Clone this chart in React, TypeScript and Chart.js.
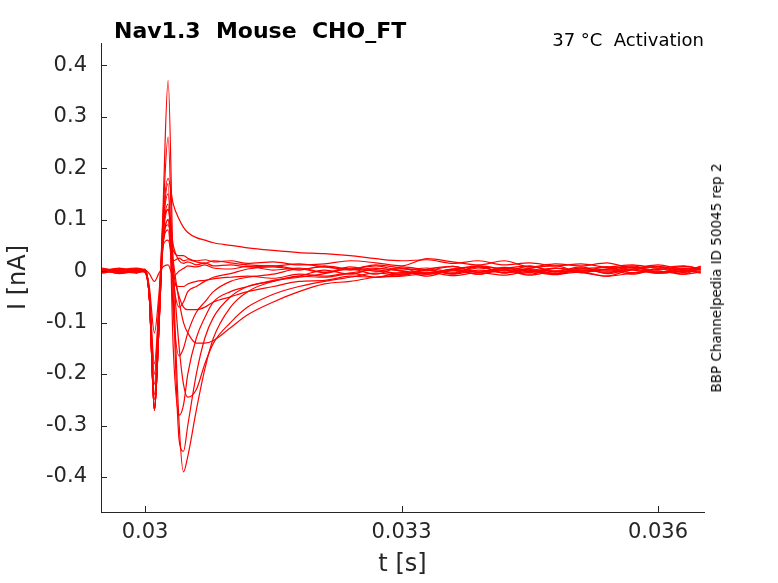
import React, { useEffect, useRef } from "react";
import { Chart, registerables } from "chart.js";
Chart.register(...registerables);

const times = [0.0295, 0.0297, 0.0299, 0.03, 0.03005, 0.03011, 0.03016, 0.03021, 0.03027, 0.03033, 0.0304, 0.03045, 0.0305, 0.0306, 0.0307, 0.0308, 0.031, 0.0312, 0.0315, 0.0318, 0.0321, 0.0324, 0.0327, 0.033, 0.0333, 0.0336, 0.0339, 0.0342, 0.0345, 0.0348, 0.0351, 0.0354, 0.0357, 0.036, 0.0363, 0.0365];

const trace1 = [0.004, -0.003, 0.002, 0.0, -0.05, -0.27, -0.12, 0.12, 0.37, 0.0, -0.3, -0.39, -0.36, -0.27, -0.19, -0.13, -0.07, -0.04, -0.02, -0.012, -0.005, 0.004, -0.006, 0.008, 0.002, -0.004, 0.01, 0.003, -0.006, 0.005, 0.0, 0.008, -0.004, 0.003, 0.006, 0.002];
const trace2 = [-0.002, 0.005, 0.0, -0.002, -0.05, -0.27, -0.12, 0.1, 0.26, -0.05, -0.33, -0.35, -0.3, -0.2, -0.13, -0.09, -0.05, -0.03, -0.02, -0.01, -0.012, -0.004, 0.003, -0.008, 0.004, 0.009, -0.002, 0.006, 0.0, -0.007, 0.004, 0.002, 0.007, -0.003, 0.0, 0.008];
const trace3 = [0.006, 0.0, -0.004, 0.002, -0.05, -0.27, -0.12, 0.08, 0.17, -0.15, -0.28, -0.26, -0.2, -0.13, -0.09, -0.06, -0.04, -0.03, -0.018, -0.01, 0.002, -0.006, 0.005, 0.0, -0.01, 0.004, 0.008, -0.003, 0.006, 0.01, -0.002, 0.003, -0.006, 0.004, 0.002, -0.004];
const trace4 = [0.0, 0.004, 0.003, -0.003, -0.05, -0.27, -0.12, 0.08, 0.15, 0.0, -0.15, -0.22, -0.245, -0.23, -0.18, -0.14, -0.1, -0.07, -0.045, -0.03, -0.02, -0.012, -0.004, -0.008, 0.002, -0.005, 0.006, 0.0, 0.009, -0.002, 0.004, 0.007, -0.003, 0.005, -0.006, 0.01];
const trace5 = [-0.004, 0.002, 0.006, 0.001, -0.05, -0.27, -0.12, 0.07, 0.13, -0.08, -0.165, -0.15, -0.12, -0.08, -0.06, -0.04, -0.02, -0.012, -0.006, 0.004, -0.003, 0.008, 0.0, 0.005, -0.006, 0.002, 0.01, -0.004, 0.003, 0.0, 0.008, -0.005, 0.004, 0.009, 0.001, 0.0];
const trace6 = [0.003, -0.005, 0.0, 0.004, -0.05, -0.27, -0.12, 0.06, 0.12, 0.02, -0.06, -0.1, -0.12, -0.14, -0.14, -0.135, -0.11, -0.085, -0.06, -0.04, -0.025, -0.02, -0.012, -0.01, -0.004, 0.002, -0.006, 0.005, 0.0, 0.006, -0.003, 0.004, 0.008, -0.002, 0.005, 0.003];
const trace7 = [0.002, 0.004, -0.003, 0.0, -0.05, -0.26, -0.11, 0.05, 0.1, 0.0, -0.05, -0.07, -0.075, -0.075, -0.07, -0.06, -0.05, -0.04, -0.03, -0.02, -0.018, -0.01, -0.012, -0.003, -0.006, 0.004, -0.002, 0.007, 0.002, -0.004, 0.006, 0.0, 0.003, 0.008, -0.003, 0.004];
const trace8 = [-0.003, 0.0, 0.005, -0.002, -0.05, -0.25, -0.11, 0.05, 0.1, -0.02, -0.07, -0.06, -0.04, -0.03, -0.02, -0.012, -0.005, 0.004, 0.008, 0.002, 0.01, 0.004, 0.012, 0.006, 0.002, 0.009, -0.002, 0.005, 0.01, 0.0, 0.006, -0.004, 0.007, 0.002, 0.009, 0.004];
const trace9 = [0.005, -0.002, 0.0, 0.003, -0.04, -0.22, -0.08, 0.1, 0.18, 0.13, 0.1, 0.085, 0.075, 0.065, 0.06, 0.055, 0.05, 0.045, 0.04, 0.036, 0.034, 0.03, 0.024, 0.02, 0.022, 0.015, 0.02, 0.012, 0.016, 0.01, 0.014, 0.008, 0.012, 0.006, 0.01, 0.004];
const trace10 = [0.0, 0.006, -0.002, 0.002, -0.04, -0.2, -0.08, 0.06, 0.09, 0.04, 0.03, 0.03, 0.025, 0.02, 0.022, 0.018, 0.02, 0.015, 0.018, 0.012, 0.014, 0.02, 0.016, 0.01, 0.024, 0.018, 0.012, 0.02, 0.008, 0.014, 0.01, 0.016, 0.006, 0.012, 0.004, 0.008];
const trace11 = [0.002, -0.004, 0.004, 0.0, -0.03, -0.12, -0.05, 0.05, 0.06, 0.02, 0.025, 0.02, 0.022, 0.018, 0.015, 0.02, 0.016, 0.012, 0.01, 0.014, 0.008, 0.004, 0.01, 0.002, 0.006, -0.002, 0.008, 0.004, -0.003, 0.006, 0.0, 0.004, 0.01, -0.002, 0.003, 0.006];
const trace12 = [-0.003, 0.003, 0.001, 0.002, -0.005, -0.02, -0.005, 0.008, 0.012, -0.01, 0.0, 0.005, 0.01, 0.008, 0.012, 0.006, 0.004, 0.009, 0.002, 0.006, -0.002, 0.004, 0.0, -0.004, 0.003, -0.006, 0.002, -0.003, 0.005, -0.005, 0.002, -0.002, 0.004, -0.004, 0.0, 0.003];
const trace13 = [0.004, 0.001, -0.003, 0.0, -0.04, -0.18, -0.07, 0.08, 0.12, 0.05, 0.02, 0.015, 0.018, 0.012, 0.016, 0.01, 0.012, 0.008, 0.01, 0.004, 0.008, 0.002, 0.006, 0.0, -0.004, 0.004, -0.006, 0.002, -0.008, 0.0, -0.003, -0.01, 0.002, -0.004, 0.0, -0.002];
const trace14 = [-0.002, 0.002, 0.004, -0.001, -0.05, -0.24, -0.1, 0.05, 0.08, -0.02, -0.03, -0.03, -0.025, -0.02, -0.018, -0.015, -0.012, -0.01, -0.014, -0.006, -0.01, -0.004, -0.012, -0.006, -0.002, -0.009, -0.003, -0.008, 0.0, -0.006, -0.002, -0.01, -0.004, 0.0, -0.006, -0.002];

const traces = [trace1, trace2, trace3, trace4, trace5, trace6, trace7, trace8, trace9, trace10, trace11, trace12, trace13, trace14];
const xTicks = [0.03, 0.033, 0.036];
const yTicks = [-0.4, -0.3, -0.2, -0.1, 0, 0.1, 0.2, 0.3, 0.4];

const FONT = "DejaVu Sans";

export default function App() {
  const ref = useRef<HTMLCanvasElement | null>(null);
  useEffect(() => {
    if (!ref.current) return;
    const inwardTicks = {
      id: "inwardTicks",
      afterDraw(chart: any) {
        const ctx = chart.ctx;
        const x = chart.scales.x, y = chart.scales.y;
        const a = chart.chartArea;
        ctx.save();
        ctx.strokeStyle = "#262626";
        ctx.lineWidth = 1;
        ctx.beginPath();
        xTicks.forEach((t) => {
          const px = Math.round(x.getPixelForValue(t)) + 0.5;
          ctx.moveTo(px, a.bottom);
          ctx.lineTo(px, a.bottom - 6);
        });
        yTicks.forEach((t) => {
          const py = Math.round(y.getPixelForValue(t)) + 0.5;
          ctx.moveTo(a.left, py);
          ctx.lineTo(a.left + 6, py);
        });
        ctx.stroke();
        ctx.restore();
      },
    };
    const chart = new Chart(ref.current, {
      type: "line",
      data: {
        datasets: traces.map((tr) => ({
          data: tr.map((v, i) => ({ x: times[i], y: v })),
          borderColor: "#ff0000",
          borderWidth: 1.2,
          pointRadius: 0,
          cubicInterpolationMode: "monotone" as const,
          fill: false,
        })),
      },
      options: {
        animation: false,
        responsive: false,
        layout: { padding: { top: 43, right: 74, left: 0, bottom: 0 } },
        plugins: { legend: { display: false }, tooltip: { enabled: false } },
        scales: {
          x: {
            type: "linear",
            min: 0.029485,
            max: 0.036538,
            afterBuildTicks: (s: any) => { s.ticks = xTicks.map((v) => ({ value: v })); },
            afterFit: (s: any) => { s.height = 71; },
            grid: { display: false, drawTicks: false },
            border: { color: "#262626" },
            ticks: { font: { family: FONT, size: 21 }, color: "#262626", padding: 8, maxRotation: 0, callback: (v: any) => String(Number(v)) },
            title: { display: true, text: "t [s]", font: { family: FONT, size: 24 }, color: "#262626", padding: { top: 0 } },
          },
          y: {
            type: "linear",
            min: -0.468,
            max: 0.443,
            afterBuildTicks: (s: any) => { s.ticks = yTicks.map((v) => ({ value: v })); },
            afterFit: (s: any) => { s.width = 101; },
            grid: { display: false, drawTicks: false },
            border: { color: "#262626" },
            ticks: { font: { family: FONT, size: 21 }, color: "#262626", padding: 14, callback: (v: any) => String(Math.round(Number(v) * 10) / 10) },
            title: { display: true, text: "I [nA]", font: { family: FONT, size: 24 }, color: "#262626", padding: { bottom: 0 } },
          },
        },
      },
      plugins: [inwardTicks],
    });
    return () => chart.destroy();
  }, []);
  return (
    <div style={{ position: "fixed", left: 0, top: 0, width: 778, height: 583, background: "#fff", fontFamily: FONT }}>
      <canvas ref={ref} width={778} height={583} />
      <div style={{ position: "absolute", left: 114, top: 18, fontSize: 22, fontWeight: "bold", color: "#000", whiteSpace: "pre" }}>Nav1.3  Mouse  CHO_FT</div>
      <div style={{ position: "absolute", right: 74, top: 29, fontSize: 18, color: "#000", whiteSpace: "pre" }}>37 °C  Activation</div>
      <div style={{ position: "absolute", left: 716, top: 278, fontSize: 13.5, color: "#000", whiteSpace: "pre", transform: "translate(-50%, -50%) rotate(-90deg)" }}>BBP Channelpedia ID 50045 rep 2</div>
    </div>
  );
}
